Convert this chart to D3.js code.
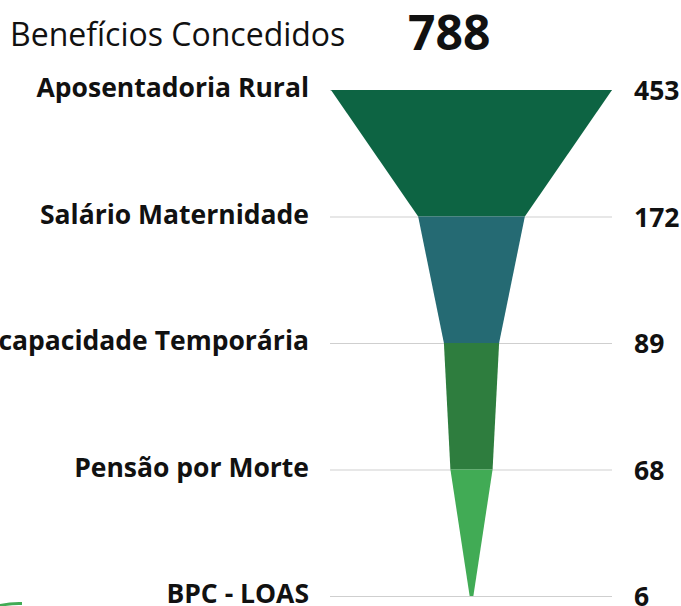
<!DOCTYPE html>
<html>
<head>
<meta charset="utf-8">
<script src="https://cdn.jsdelivr.net/npm/d3@7"></script>
<style>
  body { margin: 0; background: #fff; }
  svg { display: block; font-family: "Open Sans", sans-serif; }
</style>
</head>
<body>
<svg id="viz-funnel" width="681" height="606"></svg>
<script>
// dados
var categorias = ["Aposentadoria Rural", "Salário Maternidade", "Incapacidade Temporária", "Pensão por Morte", "BPC - LOAS"]
var valores = [453, 172, 89, 68, 6]
var cores = ["#0d6443", "#256a73", "#2e7d3e", "#41ab55"]
var titulo = "Benefícios Concedidos"
var total = 788

var svg = d3.select("#viz-funnel"),
    centro = 471.5,
    meiaLargura = 140.5;

var yFun = d3.scalePoint().domain(categorias).range([90, 596]),
    xFun = d3.scaleLinear().domain([0, d3.max(valores)]).range([0, meiaLargura]);

// titulo
svg.append("text")
    .attr("x", 10)
    .attr("y", 46)
    .attr("font-size", 32)
    .attr("fill", "#111")
    .text(titulo);

svg.append("text")
    .attr("x", 408)
    .attr("y", 50)
    .attr("font-size", 48)
    .attr("font-weight", "bold")
    .attr("fill", "#111")
    .text(total);

// linhas de grade
svg.selectAll("line.grade")
    .data(categorias)
    .enter()
    .append("line")
    .attr("class", "grade")
    .attr("x1", centro - meiaLargura - 1)
    .attr("x2", centro + meiaLargura)
    .attr("y1", function(d) { return yFun(d) + 0.5; })
    .attr("y2", function(d) { return yFun(d) + 0.5; })
    .attr("stroke", "#cfcfcf")
    .attr("stroke-width", 1);

// segmentos do funil
var segmentos = []
for (i = 0; i < categorias.length - 1; i++) {
    segmentos.push({
        y0: yFun(categorias[i]),
        y1: yFun(categorias[i + 1]),
        w0: xFun(valores[i]),
        w1: xFun(valores[i + 1]),
        cor: cores[i]
    })
}

svg.selectAll("path.seg")
    .data(segmentos)
    .enter()
    .append("path")
    .attr("class", "seg")
    .attr("fill", function(d) { return d.cor; })
    .attr("d", function(d) {
        return "M" + (centro - d.w0) + "," + d.y0 +
            "L" + (centro + d.w0) + "," + d.y0 +
            "L" + (centro + d.w1) + "," + d.y1 +
            "L" + (centro - d.w1) + "," + d.y1 + "Z";
    });

// rotulos
svg.selectAll("text.cat")
    .data(categorias)
    .enter()
    .append("text")
    .attr("class", "cat")
    .attr("x", 309)
    .attr("y", function(d) { return yFun(d) - 2; })
    .attr("dy", "0.35em")
    .attr("text-anchor", "end")
    .attr("font-size", 26.5)
    .attr("font-weight", "bold")
    .attr("fill", "#111")
    .text(function(d) { return d; });

svg.selectAll("text.val")
    .data(valores)
    .enter()
    .append("text")
    .attr("class", "val")
    .attr("x", 634)
    .attr("y", function(d, i) { return yFun(categorias[i]) + 1; })
    .attr("dy", "0.35em")
    .attr("font-size", 26.5)
    .attr("font-weight", "bold")
    .attr("fill", "#111")
    .text(function(d) { return d; });

// arco verde no canto (outro visual cortado)
svg.append("path")
    .attr("d", "M-10,608 Q6,603 22,603.5")
    .attr("fill", "none")
    .attr("stroke", "#41ab55")
    .attr("stroke-width", 3);
</script>
</body>
</html>
